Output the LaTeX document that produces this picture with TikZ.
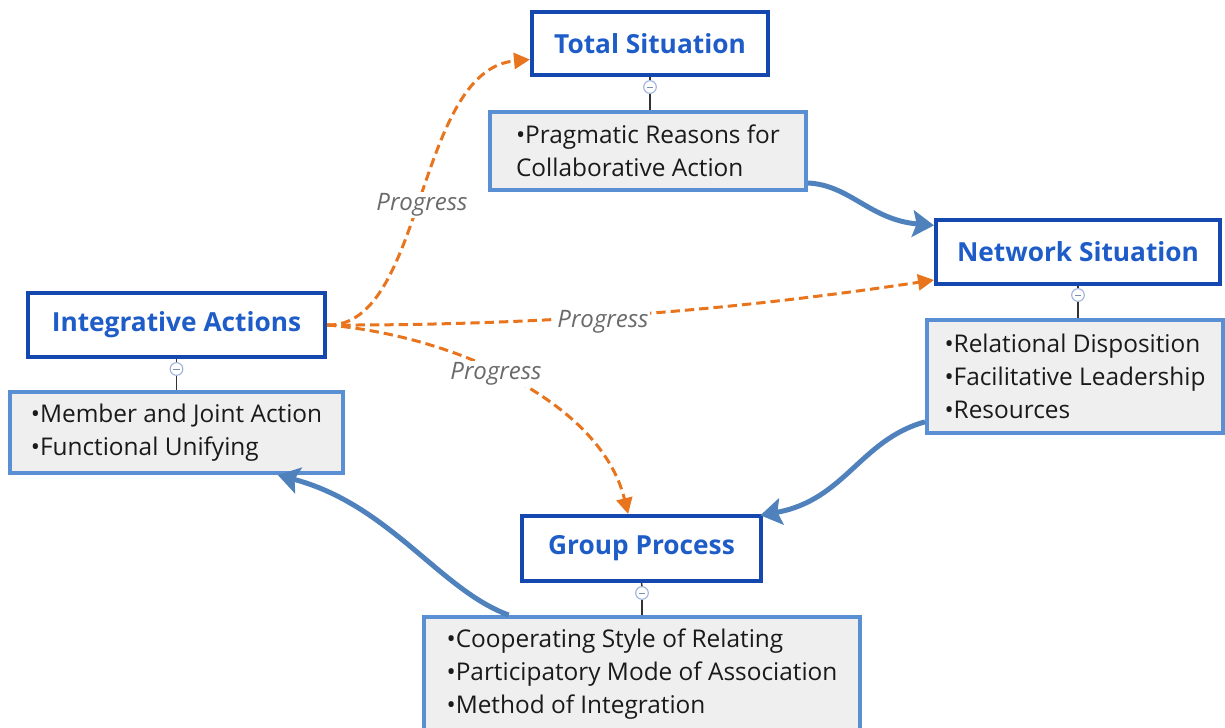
\documentclass[tikz,border=0pt]{standalone}
\usepackage{fontspec}
\setmainfont{Open Sans}
\usetikzlibrary{arrows.meta}
\definecolor{titleblue}{HTML}{1E5CC8}
\definecolor{frameblue}{HTML}{1548AE}
\definecolor{detailframe}{HTML}{5B8FD3}
\definecolor{detailfill}{HTML}{EFEFEF}
\definecolor{linkblue}{HTML}{4F81BD}
\definecolor{progorange}{HTML}{E8741E}
\definecolor{labelgray}{HTML}{6A6A6A}
\definecolor{collapseblue}{HTML}{9DB2DD}
\definecolor{textdark}{HTML}{1A1A1A}
\begin{document}
\begin{tikzpicture}[x=0.75pt,y=-0.75pt,
  titlebox/.style={draw=frameblue, line width=3pt, fill=white,
    font=\bfseries\fontsize{19.7}{22}\selectfont, text=titleblue, inner sep=0pt},
  detailbox/.style={draw=detailframe, line width=3pt, fill=detailfill,
    font=\fontsize{18.3}{24.75}\selectfont, text=textdark, align=left, inner sep=0pt},
  collapse/.style={circle, draw=collapseblue, line width=0.8pt, fill=white,
    minimum size=9.5pt, inner sep=0pt},
  minusmark/.style={draw=collapseblue!80!black, line width=0.7pt},
  stem/.style={draw=black!80, line width=1.1pt},
  bluelink/.style={draw=linkblue, line width=3.75pt,
    -{Stealth[length=16pt, width=20pt, inset=3pt]}},
  proglink/.style={draw=progorange, line width=2.25pt, dash pattern=on 7pt off 3.75pt,
    -{Triangle[length=12pt, width=12pt]}},
  proglabel/.style={font=\itshape\fontsize{18}{20}\selectfont, text=labelgray,
    fill=white, inner sep=1pt}
]
\useasboundingbox (0,0) rectangle (1225,728);

% main nodes
\node[titlebox, minimum width=177pt, minimum height=47.25pt] (total) at (650,43.5) {Total Situation};
\node[titlebox, minimum width=213pt, minimum height=48pt] (net) at (1078,252) {Network Situation};
\node[titlebox, minimum width=222.75pt, minimum height=48pt] (integ) at (176.5,325) {Integrative Actions};
\node[titlebox, minimum width=179.25pt, minimum height=48.75pt] (group) at (641.5,548.5) {Group Process};

% detail nodes
\node[detailbox, minimum width=237pt, minimum height=58.5pt] (prag) at (648,151)
  {\textbullet Pragmatic Reasons for\\Collaborative Action};
\node[detailbox, minimum width=222pt, minimum height=84.75pt] (netd) at (1075,376.5)
  {\textbullet Relational Disposition\\\textbullet Facilitative Leadership\\\textbullet Resources};
\node[detailbox, minimum width=249.75pt, minimum height=60.75pt] (member) at (176.5,432.5)
  {\textbullet Member and Joint Action\\\textbullet Functional Unifying};
\node[detailbox, minimum width=327pt, minimum height=85.5pt] (grpd) at (642,674)
  {\textbullet Cooperating Style of Relating\\\textbullet Participatory Mode of Association\\\textbullet Method of Integration};

% collapse markers and stems
\node[collapse] (c1) at (650,87) {};
\node[collapse] (c2) at (1078,295) {};
\node[collapse] (c3) at (176.5,369) {};
\node[collapse] (c4) at (642,593) {};
\foreach \c/\a/\b in {c1/total/prag, c2/net/netd, c3/integ/member, c4/group/grpd}{
  \draw[stem] (\a.south) -- (\c.north);
  \draw[stem] (\c.south) -- (\c |- \b.north);
  \draw[minusmark] ([xshift=-2.3pt]\c.center) -- ([xshift=2.3pt]\c.center);
}

% blue connectors
\draw[bluelink] ([yshift=-24pt]prag.east) .. controls (850,185) and (870,220) .. ([yshift=20pt]net.west);
\draw[bluelink] ([yshift=-34pt]netd.west) .. controls (860,440) and (845,500) .. ([xshift=-2pt,yshift=-1pt]group.north east);
\draw[bluelink] ([xshift=-100pt]grpd.north) .. controls (440,590) and (390,505) .. ([xshift=76pt]member.south);

% orange progress connectors
\draw[proglink] (integ.east) .. controls (425,328) and (415,70) .. ([yshift=-12pt]total.west);
\draw[proglink] (integ.east) .. controls (600,326) and (800,300) .. ([yshift=-21pt]net.west);
\draw[proglink] (integ.east) .. controls (450,335) and (600,400) .. ([xshift=-10pt]group.north);

% labels
\node[proglabel] (l1) at (422,205) {Progress};
\node[proglabel] (l2) at (603,322) {Progress};
\node[proglabel] (l3) at (496,374) {Progress};
\end{tikzpicture}
\end{document}
